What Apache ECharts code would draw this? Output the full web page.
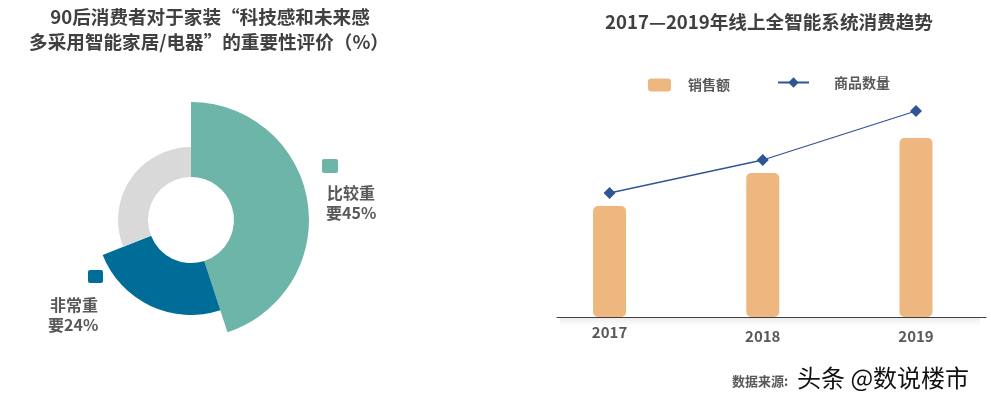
<!DOCTYPE html>
<html>
<head>
<meta charset="utf-8">
<script src="https://cdn.jsdelivr.net/npm/echarts@6/dist/echarts.min.js"></script>
<style>
html,body{margin:0;padding:0;background:#fff;}
#c{width:991px;height:402px;}
</style>
</head>
<body>
<div id="c"></div>
<script>
// ---- data ----
var pieNames = ['比较重要', '非常重要', '其他'];
var pieValues = [45, 24, 31];
var years = [2017, 2018, 2019];
var sales = [111, 144, 179];       // 销售额 (relative)
var quantity = [124, 157, 206];    // 商品数量 (relative)

var FONT = '"Noto Sans CJK SC", "Noto Sans", sans-serif';
var pieColors = ['#6DB4A9', '#006D99', '#D9D9D9'];
var pieOuter = [118, 95, 73];

function pieSeries(idx) {
  return {
    type: 'pie',
    center: [191, 220],
    radius: [43, pieOuter[idx]],
    startAngle: 90,
    clockwise: true,
    silent: true,
    animation: false,
    label: {show: false},
    labelLine: {show: false},
    emphasis: {disabled: true},
    z: 2 + idx,
    data: pieNames.map(function (n, i) {
      return {
        name: n, value: pieValues[i],
        itemStyle: {color: i === idx ? pieColors[i] : 'rgba(0,0,0,0)'}
      };
    })
  };
}

function labelText(i) {
  var n = pieNames[i];
  return [n.slice(0, 3), n.slice(3) + pieValues[i] + '%'];
}

var lbl0 = labelText(0), lbl1 = labelText(1);

var chart = echarts.init(document.getElementById('c'), null, {renderer: 'canvas'});
var option = {
  animation: false,
  textStyle: {fontFamily: FONT},
  grid: {left: 557, right: 5, top: 97, bottom: 85},
  legend: [
    {
      data: ['销售额'], left: 648, top: 78, padding: 0,
      itemWidth: 23, itemHeight: 13, selectedMode: false,
      textStyle: {fontFamily: FONT, fontSize: 14, fontWeight: 'bold', color: '#595959', padding: [0, 0, 6, 12]}
    },
    {
      data: ['商品数量'], left: 777, top: 75.5, padding: 0,
      itemWidth: 31, itemHeight: 13, selectedMode: false,
      textStyle: {fontFamily: FONT, fontSize: 14, fontWeight: 'bold', color: '#595959', padding: [0, 0, 1, 20]}
    }
  ],
  xAxis: {
    type: 'value',
    min: 2016.657, max: 2019.457,
    splitLine: {show: false},
    axisTick: {show: false},
    axisLine: {show: true, onZero: false, lineStyle: {color: '#404040', width: 1}},
    axisLabel: {
      customValues: years,
      margin: 5,
      fontFamily: FONT, fontSize: 15, fontWeight: 'bold', color: '#595959',
      lineHeight: 20,
      formatter: function (v) {
        return v === years[0] ? String(v) : '{b|' + v + '}';
      },
      rich: {b: {lineHeight: 28, fontFamily: FONT, fontSize: 15, fontWeight: 'bold', color: '#595959'}}
    }
  },
  yAxis: {type: 'value', min: 0, max: 220, show: false},
  series: [
    {
      name: '销售额', type: 'bar', barWidth: 33,
      itemStyle: {color: '#EDB77F', borderRadius: 5},
      silent: true,
      data: years.map(function (y, i) { return [y, sales[i]]; })
    },
    {
      name: '商品数量', type: 'line',
      symbol: 'diamond', symbolSize: 12,
      lineStyle: {color: '#2F5597', width: 1.3},
      itemStyle: {color: '#2F5597'},
      silent: true,
      data: years.map(function (y, i) { return [y, quantity[i]]; })
    },
    pieSeries(0), pieSeries(1), pieSeries(2)
  ],
  graphic: [
    {type: 'text', x: 210, y: 17, style: {text: '90后消费者对于家装“科技感和未来感', font: 'bold 18.6px ' + FONT, fill: '#404040', align: 'center', verticalAlign: 'middle'}},
    {type: 'text', x: 209, y: 42, style: {text: '多采用智能家居/电器”的重要性评价（%）', font: 'bold 18.6px ' + FONT, fill: '#404040', align: 'center', verticalAlign: 'middle'}},
    {type: 'text', x: 769, y: 22, style: {text: '2017—2019年线上全智能系统消费趋势', font: 'bold 18.6px ' + FONT, fill: '#404040', align: 'center', verticalAlign: 'middle'}},
    {type: 'rect', shape: {x: 322, y: 159, width: 16, height: 14, r: 2}, style: {fill: pieColors[0]}},
    {type: 'text', x: 327, y: 192.5, style: {text: lbl0[0], font: 'bold 16px ' + FONT, fill: '#595959', align: 'left', verticalAlign: 'middle'}},
    {type: 'text', x: 326, y: 212.5, style: {text: lbl0[1], font: 'bold 16px ' + FONT, fill: '#595959', align: 'left', verticalAlign: 'middle'}},
    {type: 'rect', shape: {x: 88, y: 270, width: 15, height: 13, r: 2}, style: {fill: pieColors[1]}},
    {type: 'text', x: 50, y: 305, style: {text: lbl1[0], font: 'bold 16px ' + FONT, fill: '#595959', align: 'left', verticalAlign: 'middle'}},
    {type: 'text', x: 48, y: 325, style: {text: lbl1[1], font: 'bold 16px ' + FONT, fill: '#595959', align: 'left', verticalAlign: 'middle'}},
    {type: 'rect', z: -1, shape: {x: 560, y: 318, width: 420, height: 8},
      style: {fill: new echarts.graphic.LinearGradient(0, 0, 0, 1, [{offset: 0, color: 'rgba(0,0,0,0.07)'}, {offset: 1, color: 'rgba(0,0,0,0)'}])}},
    {type: 'text', x: 732, y: 381, style: {text: '数据来源:', font: 'bold 13px ' + FONT, fill: '#595959', align: 'left', verticalAlign: 'middle'}},
    {type: 'text', x: 797, y: 378, z: 10, style: {text: '头条 @数说楼市', font: '24px ' + FONT, fill: '#111', stroke: '#fff', lineWidth: 2.5, align: 'left', verticalAlign: 'middle'}}
  ]
};
chart.setOption(option);
</script>
</body>
</html>
